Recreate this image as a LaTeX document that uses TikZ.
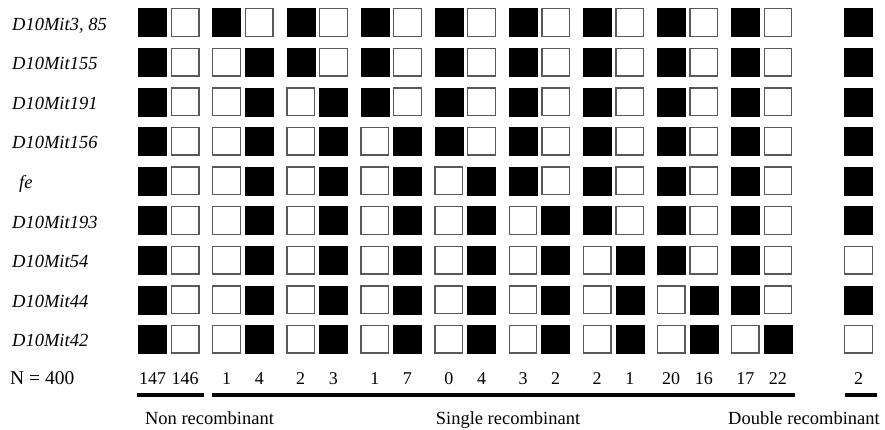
\documentclass[tikz,border=0pt]{standalone}
\usepackage{fontspec}
\setmainfont{Liberation Serif}
\usetikzlibrary{positioning}
\tikzset{
  blackbox/.style={draw=black, fill=black, minimum size=28pt, inner sep=0pt},
  whitebox/.style={draw=black!65, fill=white, line width=1.3pt, minimum size=27.6pt, inner sep=0pt},
  marker/.style={font=\fontsize{18.5}{21}\selectfont\itshape, anchor=base west, inner sep=0pt},
  count/.style={font=\fontsize{18}{21}\selectfont, anchor=base, inner sep=0pt},
  groupline/.style={line width=4pt},
  grouplabel/.style={font=\fontsize{18.5}{21}\selectfont, anchor=base, inner sep=0pt}
}

\begin{document}
\begin{tikzpicture}[x=1pt, y=-1pt]
    \useasboundingbox (0,0) rectangle (885,429);
    % Haplotype rows: marker name, label x, last (double recombinant) box
    \foreach \name/\lx/\last [count=\r] in {
        D10Mit3{,} 85/12/blackbox,
        D10Mit155/12/blackbox,
        D10Mit191/12/blackbox,
        D10Mit156/12/blackbox,
        fe/19/blackbox,
        D10Mit193/12/blackbox,
        D10Mit54/12/whitebox,
        D10Mit44/12/blackbox,
        D10Mit42/12/whitebox} {
        \pgfmathsetmacro\y{22.5+39.6*(\r-1)}
        \node[marker] (lab\r) at (\lx,\y+7.5) {\name};
        \foreach \p in {1,...,9} {
            \pgfmathsetmacro\x{152.5+74.1*(\p-1)}
            \def\lstyle{blackbox}\def\rstyle{whitebox}
            \ifnum\p>1 \ifnum\p>\r \else
                \def\lstyle{whitebox}\def\rstyle{blackbox}
            \fi\fi
            \node[\lstyle] (sq\r-\p a) at (\x,\y) {};
            \node[\rstyle, right=4pt of sq\r-\p a] (sq\r-\p b) {};
        }
        \node[\last] (sq\r-x) at (858.5,\y) {};
    }
    % Counts
    \node[count, anchor=base west, font=\fontsize{19.5}{22}\selectfont] (ntot) at (10,384) {N = 400};
    \foreach \p/\a/\b in {1/147/146, 2/1/4, 3/2/3, 4/1/7, 5/0/4,
                          6/3/2, 7/2/1, 8/20/16, 9/17/22} {
        \node[count] (n\p a) at (sq9-\p a |- 0,384) {\a};
        \node[count] (n\p b) at (sq9-\p b |- 0,384) {\b};
    }
    \node[count] (nx) at (sq9-x |- 0,384) {2};
    % Class bars
    \coordinate (non1) at (137,395);
    \coordinate (non2) at (204,395);
    \coordinate (sgl1) at (212,395);
    \coordinate (sgl2) at (795,395);
    \coordinate (dbl1) at (845,395);
    \coordinate (dbl2) at (877,395);
    \draw[groupline] (non1) -- (non2);
    \draw[groupline] (sgl1) -- (sgl2);
    \draw[groupline] (dbl1) -- (dbl2);
    \node[grouplabel] (nonlab) at (209.5,424) {Non recombinant};
    \node[grouplabel] (sgllab) at (508,424) {Single recombinant};
    \node[grouplabel] (dbllab) at (804,424) {Double recombinant};
\end{tikzpicture}
\end{document}
